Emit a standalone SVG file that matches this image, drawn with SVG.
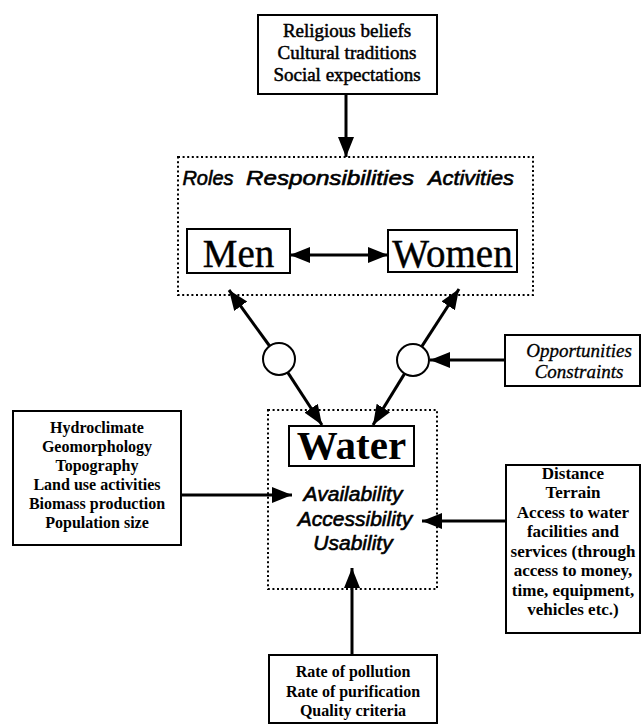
<svg xmlns="http://www.w3.org/2000/svg" width="642" height="725" viewBox="0 0 642 725">
<defs>
<marker id="ah" markerUnits="userSpaceOnUse" markerWidth="22" markerHeight="18" refX="20" refY="8" orient="auto-start-reverse">
<path d="M0,0 L20,8 L0,16 z" fill="#000"/>
</marker>
<style>
.box{fill:#fff;stroke:#000;stroke-width:2}
.dot{fill:none;stroke:#000;stroke-width:2;stroke-dasharray:2 2.6}
.circ{fill:#fff;stroke:#000;stroke-width:2}
.con{stroke:#000;stroke-width:3;fill:none;marker-end:url(#ah)}
.ser{font-family:"Liberation Serif","Times New Roman",serif;fill:#000;text-anchor:middle}
.sb{font-weight:bold}
.it{font-style:italic}
.ital{font-family:"Liberation Sans",Arial,sans-serif;font-style:italic;fill:#000;text-anchor:middle;stroke:#000;stroke-width:0.6}
</style>
</defs>
<rect width="642" height="725" fill="#fff"/>

<g id="beliefs">
<rect class="box" x="258" y="15" width="179" height="79"/>
<text class="ser" font-size="19" x="347" y="37" stroke="#000" stroke-width="0.5">Religious beliefs</text>
<text class="ser" font-size="19" x="347" y="59" stroke="#000" stroke-width="0.5">Cultural traditions</text>
<text class="ser" font-size="19" x="347" y="81" stroke="#000" stroke-width="0.5">Social expectations</text>
</g>

<g id="roles">
<rect class="dot" x="178" y="157" width="355" height="138"/>
<text class="ital" font-size="20" x="208" y="185">Roles</text>
<text class="ital" font-size="20" x="330" y="185" textLength="168" lengthAdjust="spacingAndGlyphs">Responsibilities</text>
<text class="ital" font-size="20" x="471" y="185" textLength="86" lengthAdjust="spacingAndGlyphs">Activities</text>
</g>

<g id="men">
<rect class="box" x="187" y="229" width="103" height="44"/>
<text class="ser" font-size="39" x="238.5" y="267" stroke="#000" stroke-width="0.4">Men</text>
</g>

<g id="women">
<rect class="box" x="388" y="230" width="129" height="42"/>
<text class="ser" font-size="39" x="452.5" y="267" stroke="#000" stroke-width="0.4">Women</text>
</g>

<g id="circle-left">
<circle class="circ" cx="279" cy="359" r="16"/>
</g>

<g id="circle-right">
<circle class="circ" cx="413" cy="360" r="16"/>
</g>

<g id="opportunities">
<rect class="box" x="505" y="335" width="135" height="51"/>
<text class="ser it" font-size="19" x="579" y="357" stroke="#000" stroke-width="0.3">Opportunities</text>
<text class="ser it" font-size="19" x="579" y="378" stroke="#000" stroke-width="0.3">Constraints</text>
</g>

<g id="water">
<rect class="dot" x="268" y="410" width="169" height="179"/>
<rect class="box" x="289" y="426" width="125" height="40"/>
<text class="ser sb" font-size="41" x="351.5" y="459">Water</text>
<text class="ital" font-size="21" x="353" y="501">Availability</text>
<text class="ital" font-size="21" x="355" y="526">Accessibility</text>
<text class="ital" font-size="21" x="353" y="550">Usability</text>
</g>

<g id="environment">
<rect class="box" x="13" y="411" width="168" height="134"/>
<text class="ser sb" font-size="16" x="97" y="433">Hydroclimate</text>
<text class="ser sb" font-size="16" x="97" y="452">Geomorphology</text>
<text class="ser sb" font-size="16" x="97" y="471">Topography</text>
<text class="ser sb" font-size="16" x="97" y="490">Land use activities</text>
<text class="ser sb" font-size="16" x="97" y="509">Biomass production</text>
<text class="ser sb" font-size="16" x="97" y="528">Population size</text>
</g>

<g id="access">
<rect class="box" x="506" y="465" width="134" height="168"/>
<text class="ser sb" font-size="17" x="573" y="479">Distance</text>
<text class="ser sb" font-size="17" x="573" y="498">Terrain</text>
<text class="ser sb" font-size="17" x="573" y="518">Access to water</text>
<text class="ser sb" font-size="17" x="573" y="537">facilities and</text>
<text class="ser sb" font-size="17" x="573" y="557">services (through</text>
<text class="ser sb" font-size="17" x="573" y="576">access to money,</text>
<text class="ser sb" font-size="17" x="573" y="596">time, equipment,</text>
<text class="ser sb" font-size="17" x="573" y="615">vehicles etc.)</text>
</g>

<g id="quality">
<rect class="box" x="269" y="655" width="168" height="68"/>
<text class="ser sb" font-size="16" x="353" y="677">Rate of pollution</text>
<text class="ser sb" font-size="16" x="353" y="697">Rate of purification</text>
<text class="ser sb" font-size="16" x="353" y="716">Quality criteria</text>
</g>

<g id="connectors">
<line class="con" x1="346" y1="94" x2="346" y2="157"/>
<line class="con" x1="290" y1="255" x2="388" y2="255" style="marker-start:url(#ah)"/>
<line class="con" x1="269.6" y1="346" x2="229" y2="290"/>
<line class="con" x1="421.7" y1="346.6" x2="459" y2="289"/>
<line class="con" x1="287.7" y1="372.4" x2="322" y2="425"/>
<line class="con" x1="404.6" y1="373.6" x2="373" y2="425"/>
<line class="con" x1="505" y1="360" x2="430" y2="360"/>
<line class="con" x1="181" y1="495" x2="292" y2="495"/>
<line class="con" x1="506" y1="521" x2="422" y2="521"/>
<line class="con" x1="352" y1="655" x2="352" y2="568"/>
</g>
</svg>
